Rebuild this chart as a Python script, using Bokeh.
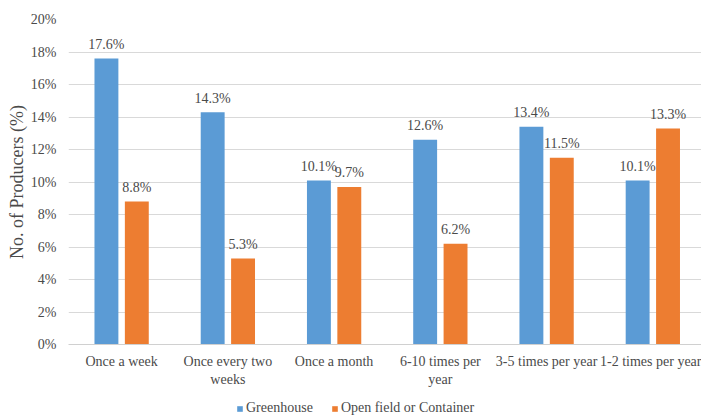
from bokeh.plotting import figure
from bokeh.layouts import column
from bokeh.models import (ColumnDataSource, Range1d, FixedTicker, PrintfTickFormatter,
                          Legend, LegendItem)
from bokeh.embed import file_html
from bokeh.resources import INLINE

categories = ["Once a week", "Once every two\nweeks", "Once a month",
              "6-10 times per\nyear", "3-5 times per year", "1-2 times per year"]
greenhouse = [17.6, 14.3, 10.1, 12.6, 13.4, 10.1]
open_field = [8.8, 5.3, 9.7, 6.2, 11.5, 13.3]
series_names = ["Greenhouse", "Open field or Container"]
y_ticks = [0, 2, 4, 6, 8, 10, 12, 14, 16, 18, 20]

FONT = "Liberation Serif"
TEXT = "#4a4a4a"
BLUE = "#5B9BD5"
ORANGE = "#ED7D31"

idx = list(range(len(categories)))
off = 0.143
bw = 0.225

src_g = ColumnDataSource(dict(x=[i - off for i in idx], top=greenhouse,
                              lab=[f"{v:.1f}%" for v in greenhouse]))
src_o = ColumnDataSource(dict(x=[i + off for i in idx], top=open_field,
                              lab=[f"{v:.1f}%" for v in open_field]))

p = figure(width=701, height=394, output_backend="svg", toolbar_location=None,
           x_range=Range1d(-0.5, 5.458), y_range=Range1d(0, 20),
           min_border_left=68, min_border_right=0, min_border_top=19,
           min_border_bottom=50)
p.outline_line_color = None
p.background_fill_color = "white"
p.border_fill_color = "white"

p.vbar(x="x", top="top", width=bw, source=src_g, fill_color=BLUE, line_color=None)
p.vbar(x="x", top="top", width=bw, source=src_o, fill_color=ORANGE, line_color=None)

for src in (src_g, src_o):
    p.text(x="x", y="top", text="lab", source=src, text_align="center",
           text_baseline="middle", y_offset=-14, text_font=FONT,
           text_font_size="14px", text_color=TEXT)

# y axis
p.yaxis.ticker = FixedTicker(ticks=y_ticks)
p.yaxis.formatter = PrintfTickFormatter(format="%d%%")
p.yaxis.axis_line_color = None
p.yaxis.major_tick_line_color = None
p.yaxis.major_tick_out = 0
p.yaxis.major_tick_in = 0
p.yaxis.minor_tick_line_color = None
p.yaxis.major_label_standoff = 12
p.yaxis.major_label_text_font = FONT
p.yaxis.major_label_text_font_size = "14px"
p.yaxis.major_label_text_color = TEXT
p.yaxis.axis_label = "No. of Producers (%)"
p.yaxis.axis_label_text_font = FONT
p.yaxis.axis_label_text_font_size = "18px"
p.yaxis.axis_label_text_font_style = "normal"
p.yaxis.axis_label_text_color = TEXT
p.yaxis.axis_label_standoff = 1

# x axis
p.xaxis.ticker = FixedTicker(ticks=idx)
p.xaxis.major_label_overrides = {i: c for i, c in zip(idx, categories)}
p.xaxis.axis_line_color = "#D0D0D0"
p.xaxis.major_tick_line_color = None
p.xaxis.major_tick_out = 0
p.xaxis.major_tick_in = 0
p.xaxis.minor_tick_line_color = None
p.xaxis.major_label_standoff = 9
p.xaxis.major_label_text_font = FONT
p.xaxis.major_label_text_font_size = "14px"
p.xaxis.major_label_text_color = TEXT

p.xgrid.grid_line_color = None
p.ygrid.grid_line_color = "#D9D9D9"

# legend strip beneath the chart; key glyphs sit outside the visible range
lg = figure(width=701, height=22, output_backend="svg", toolbar_location=None,
            x_axis_type=None, y_axis_type=None, x_range=Range1d(0, 1),
            y_range=Range1d(0, 1), min_border=0)
lg.outline_line_color = None
lg.grid.visible = False
key_g = lg.quad(left=[5], right=[6], bottom=[5], top=[6], fill_color=BLUE, line_color=None)
key_o = lg.quad(left=[5], right=[6], bottom=[5], top=[6], fill_color=ORANGE, line_color=None)
legend = Legend(items=[LegendItem(label=series_names[0], renderers=[key_g]),
                       LegendItem(label=series_names[1], renderers=[key_o])],
                orientation="horizontal", location=(168, 0),
                glyph_width=7, glyph_height=7, label_standoff=3, spacing=18,
                padding=0, margin=0, border_line_color=None,
                label_text_font=FONT, label_text_font_size="14px",
                label_text_color=TEXT, background_fill_alpha=0)
lg.add_layout(legend)

layout = column(p, lg, spacing=0)
open("out.html", "w").write(file_html(layout, INLINE))
